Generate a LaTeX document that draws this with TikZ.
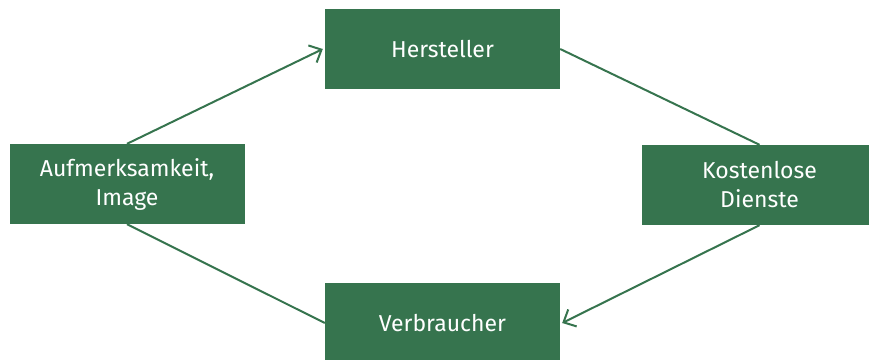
\documentclass[tikz,border=0pt]{standalone}
\usepackage{fontspec}
\setmainfont{Fira Sans}
\usetikzlibrary{arrows.meta}
\definecolor{boxgreen}{HTML}{36744E}
\tikzset{
  box/.style={fill=boxgreen, text=white, minimum width=235pt, minimum height=80pt, inner sep=0pt, align=center, font=\fontsize{23}{29}\selectfont},
  conn/.style={draw=boxgreen, line width=2pt},
  arr/.style={conn, -{Straight Barb[length=10pt,width=19pt,line width=2pt]}}
}
\begin{document}
\begin{tikzpicture}[x=1pt,y=-1pt]
\useasboundingbox (0,0) rectangle (869,359);
\node[box] (her) at (442.5,49) {Hersteller};
\node[box] (auf) at (127,184) {Aufmerksamkeit,\\Image};
\node[box] (kos) at (759.5,185) {Kostenlose\\Dienste};
\node[box] (ver) at (442.5,323) {Verbraucher};
\draw[arr] (auf.north) -- ([xshift=-2pt]her.west);
\draw[conn] (her.east) -- (kos.north);
\draw[arr] (kos.south) -- ([xshift=2pt]ver.east);
\draw[conn] (ver.west) -- (auf.south);
\end{tikzpicture}
\end{document}
